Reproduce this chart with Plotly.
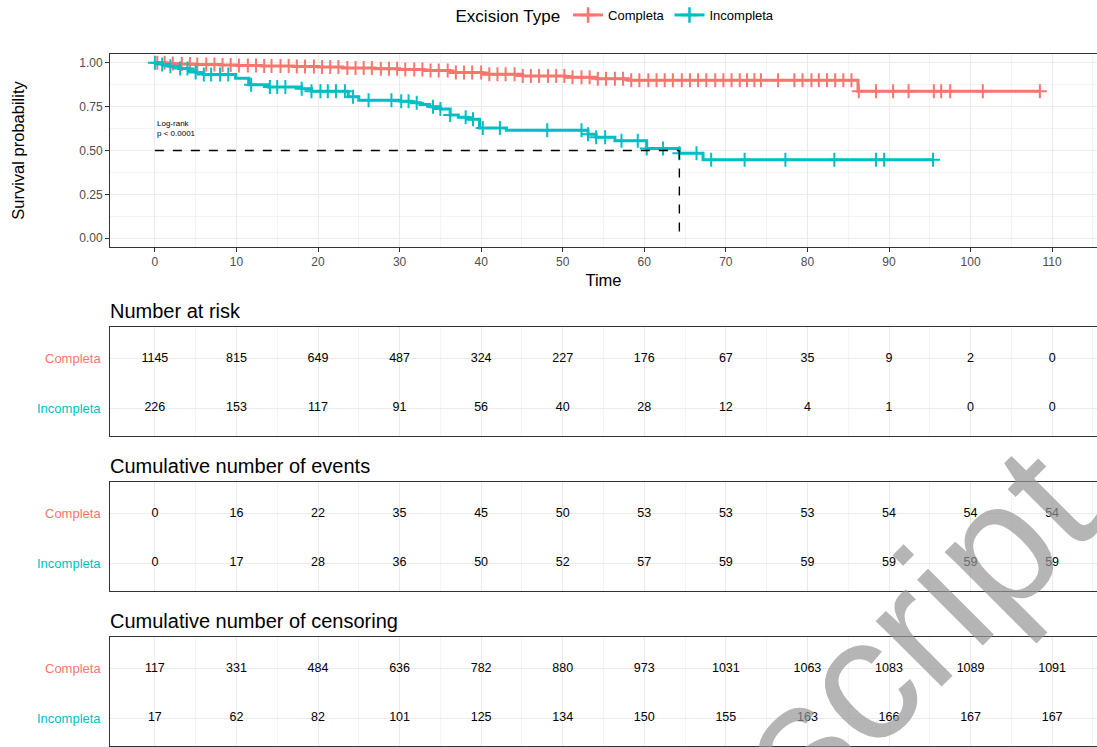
import plotly.graph_objects as go

W, H = 1097, 747
RED = "#F8766D"
TEAL = "#00BFC4"

# ---------------- Kaplan-Meier data ----------------
comp_time = [0, 1.5, 3, 5, 8, 10, 13, 17, 20, 23, 27, 30, 33, 36.2, 40.2, 45.1, 50.3, 54.1, 58, 86.2]
comp_surv = [1.0, 0.996, 0.993, 0.99, 0.987, 0.985, 0.982, 0.979, 0.976, 0.970, 0.966, 0.962, 0.956,
             0.945, 0.935, 0.925, 0.918, 0.909, 0.901, 0.838]
comp_end = 108.5
comp_cens = [0.3, 1.2, 2.2, 3.3, 4.3, 5.2, 6.3, 7.3, 8.3, 9.3, 10.3, 11.4, 12.4, 13.4, 14.3, 15.4, 16.4,
             17.4, 18.4, 19.5, 20.5, 21.5, 22.5, 23.6, 24.6, 25.6, 26.6, 27.7, 28.7, 29.7, 30.7, 31.8,
             32.8, 33.8, 34.8, 35.9, 36.9, 37.9, 38.9, 40.0, 41.0, 42.0, 43.0, 44.1, 45.1, 46.1, 47.1,
             48.2, 49.2, 50.2, 51.2, 52.3, 53.3, 54.3, 55.3, 56.4, 57.4, 58.4, 59.4, 60.5, 61.5, 62.5,
             63.5, 64.6, 65.6, 66.6, 67.6, 68.7, 69.7, 70.7, 71.7, 72.6, 73.5, 74.3, 76.4, 78.4, 79.4,
             80.5, 81.4, 82.4, 83.4, 84.4, 85.4, 86.3, 88.4, 90.5, 92.4, 95.5, 96.4, 97.5, 101.5, 108.5]

inc_time = [0, 0.9, 1.7, 2.9, 4.1, 5.0, 6.0, 9.9, 11.5, 13.9, 18.0, 19.2, 23.7, 25.0, 30.1, 31.5, 32.5,
            33.7, 35.0, 36.2, 37.2, 38.4, 39.8, 43.1, 53.1, 54.1, 56.4, 60.3, 64.3, 67.2]
inc_surv = [1.0, 0.99, 0.98, 0.968, 0.955, 0.945, 0.933, 0.912, 0.875, 0.862, 0.852, 0.838, 0.806, 0.786,
            0.780, 0.772, 0.762, 0.750, 0.737, 0.703, 0.690, 0.678, 0.628, 0.615, 0.592, 0.575, 0.556,
            0.512, 0.484, 0.447]
inc_end = 95.4
inc_cens = [0, 0.9, 1.9, 3.1, 4.0, 5.0, 6.0, 6.9, 8.0, 9.0, 11.8, 14.1, 15.0, 16.0, 18.0, 19.2, 20.3,
            21.2, 22.2, 23.3, 24.3, 26.2, 29.0, 30.2, 31.1, 32.1, 34.1, 35.0, 36.2, 38.1, 39.0, 40.2,
            42.3, 48.1, 52.3, 53.1, 54.1, 55.2, 57.2, 59.2, 60.3, 62.3, 64.3, 66.4, 68.2, 72.3, 77.3,
            83.3, 88.4, 89.4, 95.4]

# ---------------- Tables ----------------
tick_times = [0, 10, 20, 30, 40, 50, 60, 70, 80, 90, 100, 110]
groups = ["Completa", "Incompleta"]
risk_comp = [1145, 815, 649, 487, 324, 227, 176, 67, 35, 9, 2, 0]
risk_inc = [226, 153, 117, 91, 56, 40, 28, 12, 4, 1, 0, 0]
events_comp = [0, 16, 22, 35, 45, 50, 53, 53, 53, 54, 54, 54]
events_inc = [0, 17, 28, 36, 50, 52, 57, 59, 59, 59, 59, 59]
cens_comp = [117, 331, 484, 636, 782, 880, 973, 1031, 1063, 1083, 1089, 1091]
cens_inc = [17, 62, 82, 101, 125, 134, 150, 155, 163, 166, 167, 167]

y_ticks = [0, 0.25, 0.5, 0.75, 1.0]


def step_at(times, survs, t):
    v = survs[0]
    for tt, s in zip(times, survs):
        if tt <= t:
            v = s
    return v


fig = go.Figure()

FONT = "Liberation Sans, Arial, sans-serif"

for name, times, survs, end, cens, col in [
    ("Completa", comp_time, comp_surv, comp_end, comp_cens, RED),
    ("Incompleta", inc_time, inc_surv, inc_end, inc_cens, TEAL),
]:
    fig.add_trace(go.Scatter(
        x=times + [end], y=survs + [survs[-1]], mode="lines",
        line=dict(color=col, width=3, shape="hv"), showlegend=False, xaxis="x", yaxis="y"))
    fig.add_trace(go.Scatter(
        x=cens, y=[step_at(times, survs, c) for c in cens], mode="markers",
        marker=dict(symbol="cross-thin", size=10, line=dict(color=col, width=2)),
        showlegend=False, xaxis="x", yaxis="y"))
    # legend entry
    fig.add_trace(go.Scatter(
        x=[None], y=[None], mode="lines+markers", name=name,
        line=dict(color=col, width=3),
        marker=dict(symbol="cross-thin", size=11, line=dict(color=col, width=2.5)),
        xaxis="x", yaxis="y"))

# median lines
median_t = next(t for t, s in zip(inc_time, inc_surv) if s <= 0.5)
fig.add_trace(go.Scatter(x=[0, median_t], y=[0.5, 0.5], mode="lines",
                         line=dict(color="black", width=1.4, dash="dash"), showlegend=False))
fig.add_trace(go.Scatter(x=[median_t, median_t], y=[0.5, 0], mode="lines",
                         line=dict(color="black", width=1.4, dash="dash"), showlegend=False))

# table traces
tables = [
    ("x2", "y2", risk_comp, risk_inc),
    ("x3", "y3", events_comp, events_inc),
    ("x4", "y4", cens_comp, cens_inc),
]
for xa, ya, comp, inc in tables:
    for yv, vals in [(2, comp), (1, inc)]:
        fig.add_trace(go.Scatter(
            x=tick_times, y=[yv] * len(tick_times), mode="text",
            text=[str(v) for v in vals], textposition="middle center",
            textfont=dict(size=12.5, color="black", family=FONT),
            showlegend=False, xaxis=xa, yaxis=ya, hoverinfo="skip"))

X_DOM = [110 / W, 1.0]
XR = [-5.5, 115.5]
GRID = "#EBEBEB"
MINOR = "#F4F4F4"
BORDER = "#333333"


def px2y(p):
    return 1 - p / H


common_x = dict(range=XR, domain=X_DOM, showline=True, mirror=True, linecolor=BORDER, linewidth=1,
                showgrid=True, gridcolor=GRID, gridwidth=1, zeroline=False,
                tickvals=tick_times,
                minor=dict(tickvals=[5, 15, 25, 35, 45, 55, 65, 75, 85, 95, 105, 115],
                           showgrid=True, gridcolor=MINOR, gridwidth=1))

layout = dict(
    width=W, height=H, margin=dict(l=0, r=0, t=0, b=0),
    paper_bgcolor="white", plot_bgcolor="white",
    font=dict(family=FONT, color="black"),
    showlegend=True,
    legend=dict(orientation="h", x=0.562, xanchor="center", y=1.0, yanchor="top",
                title=dict(text="Excision Type", font=dict(size=17), side="left"),
                font=dict(size=13), itemwidth=30, bgcolor="rgba(0,0,0,0)"),
    xaxis=dict(**common_x, anchor="y", ticks="outside", ticklen=4, tickcolor=BORDER,
               tickfont=dict(size=12, color="#4D4D4D"),
               title=dict(text="Time", font=dict(size=16.5), standoff=6)),
    yaxis=dict(range=[-0.05, 1.05], domain=[px2y(247), px2y(54)], showline=True, mirror=True,
               linecolor=BORDER, linewidth=1, showgrid=True, gridcolor=GRID, zeroline=False,
               tickvals=y_ticks, ticktext=[f"{v:.2f}" for v in y_ticks],
               ticks="outside", ticklen=4, tickcolor=BORDER,
               tickfont=dict(size=12, color="#4D4D4D"),
               minor=dict(tickvals=[0.125, 0.375, 0.625, 0.875], showgrid=True, gridcolor=MINOR),
               title=dict(text="Survival probability", font=dict(size=16.5), standoff=50),
               anchor="x"),
)

tbl_dom = [(436, 327), (591, 482), (746, 637)]
for i, (bot, top) in enumerate(tbl_dom, start=2):
    layout[f"xaxis{i}"] = dict(**common_x, anchor=f"y{i}", showticklabels=False, ticks="")
    layout[f"yaxis{i}"] = dict(range=[0.44, 2.64], domain=[px2y(bot), px2y(top)], showline=True,
                               mirror=True, linecolor=BORDER, linewidth=1, showgrid=True,
                               gridcolor=GRID, zeroline=False, tickvals=[1, 2],
                               showticklabels=False, ticks="", anchor=f"x{i}")

fig.update_layout(**layout)

ann = []
titles = [("Number at risk", 311), ("Cumulative number of events", 466),
          ("Cumulative number of censoring", 621)]
for text, ypx in titles:
    ann.append(dict(text=text, xref="paper", yref="paper", x=108 / W, y=px2y(ypx),
                    xanchor="left", yanchor="middle", showarrow=False,
                    font=dict(size=20, color="black", family=FONT)))
for i in range(2, 5):
    for yv, g, col in [(2, groups[0], RED), (1, groups[1], TEAL)]:
        ann.append(dict(text=g, xref="paper", yref=f"y{i}", x=103 / W, y=yv,
                        xanchor="right", yanchor="middle", showarrow=False,
                        font=dict(size=13, color=col, family=FONT)))
ann.append(dict(text="Log-rank<br>p &lt; 0.0001", xref="x", yref="y", x=0, y=0.626,
                xanchor="left", yanchor="middle", align="left", showarrow=False,
                font=dict(size=8, color="black", family=FONT)))
# watermark
ann.append(dict(text="script", xref="paper", yref="paper", x=914 / W, y=px2y(628),
                xanchor="center", yanchor="middle", showarrow=False, textangle=-45,
                font=dict(size=176, color="rgba(150,150,150,0.7)", family=FONT)))
fig.update_layout(annotations=ann)

fig.write_html("out.html", config={"displayModeBar": False},
               post_script="document.body.style.margin='0';document.body.style.overflow='hidden';")
